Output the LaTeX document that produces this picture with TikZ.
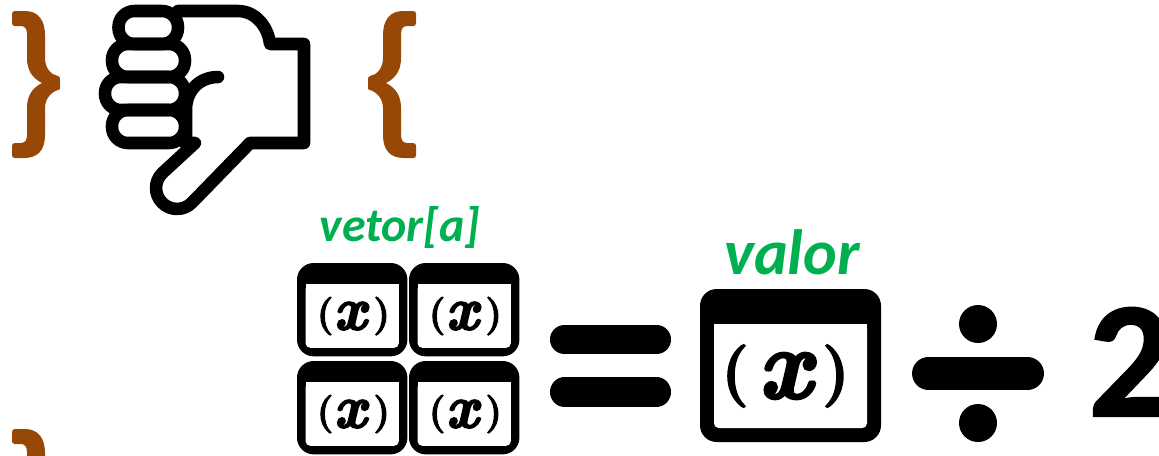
\documentclass[tikz,border=0pt]{standalone}
\usepackage{fontspec}
\setmainfont{Carlito}
\newfontfamily\parenfont[FakeBold=3]{Latin Modern Roman}
\newfontfamily\xfont[FakeBold=3]{Latin Modern Roman}
\newfontfamily\twofont[BoldFeatures={FakeBold=1.2}]{Carlito}
\definecolor{bracecol}{HTML}{984806}
\definecolor{labelgreen}{HTML}{00B050}
\tikzset{
  handline/.style={draw=black,line width=9.4pt,line cap=round,line join=round},
  fingerline/.style={handline,rounded corners=12pt},
  barline/.style={draw=black,line cap=round},
  greenlabel/.style={text=labelgreen,inner sep=0pt,anchor=base},
  iconglyph/.style={inner sep=0pt,anchor=center,transform shape},
  parenglyph/.style={iconglyph,scale=1.87,font=\Huge\bfseries\parenfont},
  xglyph/.style={iconglyph,xscale=2.85,yscale=3.0,font=\Huge\bfseries\itshape\xfont},
}
\newcommand{\bracepath}{%
  (15,11) -- (25,11) .. controls (38,11) and (45,20) .. (45,35)
  -- (45,58) .. controls (45,68) and (51,75) .. (58,76)
  .. controls (60,77) and (60,78) .. (60,80) -- (60,87)
  .. controls (60,89) and (60,90) .. (58,90)
  .. controls (51,92) and (45,99) .. (45,108)
  -- (45,135) .. controls (45,150) and (38,158) .. (24,158)
  -- (15,158) .. controls (13,158) and (12,157) .. (12,155)
  -- (12,146) .. controls (12,144) and (13,143) .. (15,143)
  -- (21,143) .. controls (25,143) and (27,140) .. (27,135)
  -- (27,108) .. controls (27,96) and (32,88) .. (42,83)
  .. controls (32,78) and (27,70) .. (27,58)
  -- (27,34) .. controls (27,29) and (25,26) .. (21,26)
  -- (15,26) .. controls (13,26) and (12,25) .. (12,23)
  -- (12,14) .. controls (12,12) and (13,11) .. (15,11) -- cycle}
\newcommand{\fnicon}[7]{%
  \begin{scope}[shift={(#2,#3)},scale=#4,transform shape]%
    \fill[black,rounded corners=12.5pt] (0,0) rectangle (181,153);%
    \fill[white,rounded corners=3.5pt] (14,35) -- (167,35) -- (167,139) -- (14,139) -- cycle;%
    \fill[white] (14,35) rectangle (167,60);%
    \node[parenglyph] (#1L) at (#5,87) {(};%
    \node[xglyph] (#1X) at (#6,87) {x};%
    \node[parenglyph] (#1R) at (#7,87) {)};%
  \end{scope}}
\begin{document}
\begin{tikzpicture}[x=0.75pt,y=-0.75pt]
\useasboundingbox (0,0) rectangle (1159,455);
\clip (0,0) rectangle (1159,455);
% braces
\fill[bracecol] \bracepath;
\begin{scope}[shift={(428,0)},xscale=-1]
  \fill[bracecol] \bracepath;
\end{scope}
\begin{scope}[shift={(0,418)}]
  \fill[bracecol] \bracepath;
\end{scope}
% thumbs down
\draw[fingerline] (118.5,11) rectangle (178,44);
\draw[fingerline] (112,44) rectangle (185,77);
\draw[fingerline] (105,77) rectangle (185,110);
\draw[fingerline] (112,110) rectangle (185,143);
\draw[handline] (178,11) -- (238,11) .. controls (255,11) and (268,26) .. (270,44)
  -- (304,44) -- (304,143) -- (250,143) -- (191.8,202.8)
  .. controls (183.6,211) and (170.4,211) .. (162.2,202.8)
  .. controls (154,194.6) and (154,181.4) .. (162.2,173.2)
  -- (195,143) -- (185,143);
\draw[handline] (218,77) .. controls (200,77) and (186,90) .. (186,110) -- (186,143);
% icons
\fnicon{a}{297}{263}{0.61}{46}{87}{139}
\fnicon{b}{409}{263}{0.61}{46}{87}{139}
\fnicon{c}{297}{361}{0.61}{46}{87}{139}
\fnicon{d}{409}{361}{0.61}{46}{87}{139}
\fnicon{e}{700}{289}{1}{35}{85}{136}
% equals
\draw[barline,line width=21.8pt] (564.5,339.5) -- (656.5,339.5);
\draw[barline,line width=21.8pt] (564.5,392) -- (656.5,392);
% divide
\draw[barline,line width=24.7pt] (928.5,373.5) -- (1027.5,373.5);
\fill[black] (978,324) ellipse [x radius=14.25pt,y radius=14.25pt];
\fill[black] (978,423) ellipse [x radius=14.25pt,y radius=14.25pt];
% two
\node[inner sep=0pt,anchor=base west,font=\bfseries\twofont\fontsize{124}{124}\selectfont] (two) at (1088,416) {2};
% labels
\node[greenlabel,font=\bfseries\itshape\fontsize{36}{42}\selectfont] (vetor) at (400,241) {vetor[a]};
\node[greenlabel,font=\bfseries\itshape\fontsize{48}{54}\selectfont] (valor) at (792,274) {valor};
\end{tikzpicture}
\end{document}
